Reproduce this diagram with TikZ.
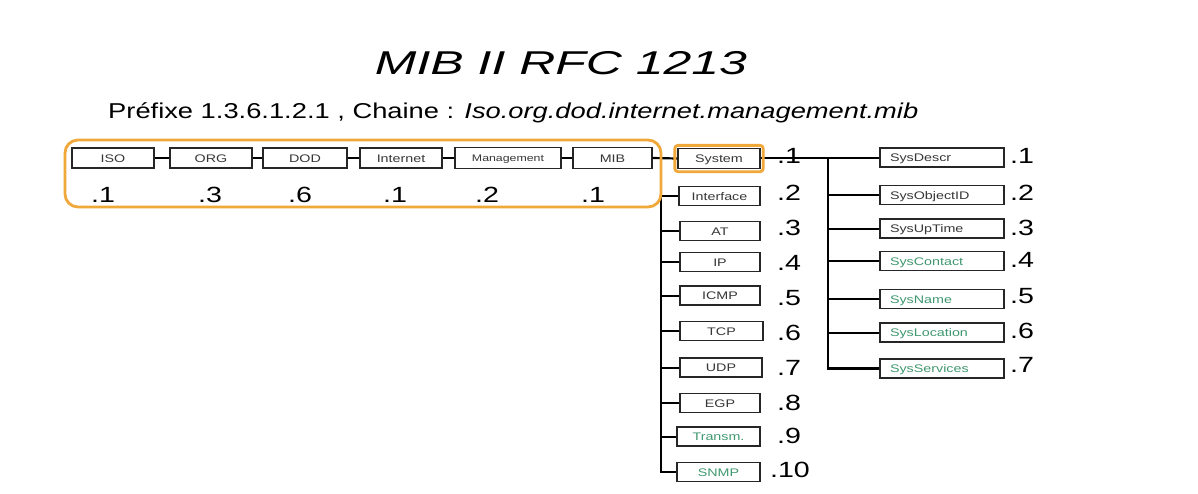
\documentclass[tikz,border=0pt]{standalone}
\usepackage{fontspec}
\setmainfont{Liberation Sans}
\usetikzlibrary{calc}
\definecolor{miborange}{RGB}{240,168,58}
\definecolor{mibgreen}{RGB}{64,152,112}
\definecolor{mibtext}{RGB}{55,55,55}
% labels are set slightly wide
\newcommand{\wtxt}[1]{\scalebox{1.3}[1]{#1}}
\begin{document}
\begin{tikzpicture}[x=1pt,y=-1pt,
  box/.style={draw=black!85, line width=1.3pt, fill=white, inner sep=0pt,
    minimum height=19pt, text=mibtext, text height=8pt, text depth=0pt,
    font=\fontsize{11pt}{12pt}\selectfont},
  leftbox/.style={box, inner xsep=10pt, text width=104pt, align=left},
  green/.style={text=mibgreen},
  num/.style={anchor=base, inner sep=0pt, font=\fontsize{22pt}{24pt}\selectfont, text=black},
  trunk/.style={line width=2.2pt, black},
  branch/.style={line width=2pt, black}]

\fill[white] (0,0) rectangle (1198,493);
\useasboundingbox (0,0) rectangle (1198,493);

% headings
\node[anchor=base] (title) at (561,74)
  {\resizebox{372pt}{\height}{\fontsize{33pt}{36pt}\selectfont\itshape MIB II RFC 1213}};
\node[anchor=base west, inner sep=0pt] (prefix) at (108,118)
  {\resizebox{810pt}{\height}{\fontsize{21.5pt}{24pt}\selectfont Préfixe 1.3.6.1.2.1 , Chaine : \textit{Iso.org.dod.internet.management.mib}}};

% path from the root down to mib
\node[box, minimum width=82pt, minimum height=20pt] (iso) at (113,158) {\wtxt{ISO}};
\node[box, minimum width=82pt, minimum height=20pt] (org) at (211,158) {\wtxt{ORG}};
\node[box, minimum width=84pt, minimum height=20pt] (dod) at (305,158) {\wtxt{DOD}};
\node[box, minimum width=82pt, minimum height=20pt] (internet) at (401,158) {\wtxt{Internet}};
\node[box, minimum width=106pt, minimum height=21pt, text height=7pt,
  font=\fontsize{9.5pt}{10pt}\selectfont] (mgmt) at (508,158) {\wtxt{Management}};
\node[box, minimum width=79pt, minimum height=21pt] (mib) at (612.5,158) {\wtxt{MIB}};

\node[num] (n-iso) at (103,202) {\wtxt{.1}};
\node[num] (n-org) at (210,202) {\wtxt{.3}};
\node[num] (n-dod) at (300,202) {\wtxt{.6}};
\node[num] (n-internet) at (395,202) {\wtxt{.1}};
\node[num] (n-mgmt) at (487,202) {\wtxt{.2}};
\node[num] (n-mib) at (593,202) {\wtxt{.1}};

% mib groups
\node[box, minimum width=82pt, minimum height=20pt] (system) at (719,158.5) {\wtxt{System}};
\node[box, minimum width=81pt] (interface) at (719.5,196) {\wtxt{Interface}};
\node[box, minimum width=80pt] (at) at (720,231) {\wtxt{AT}};
\node[box, minimum width=80pt] (ip) at (720,262) {\wtxt{IP}};
\node[box, minimum width=80pt] (icmp) at (720,295.5) {\wtxt{ICMP}};
\node[box, minimum width=83pt] (tcp) at (721.5,331) {\wtxt{TCP}};
\node[box, minimum width=82pt] (udp) at (721,367.5) {\wtxt{UDP}};
\node[box, minimum width=80pt] (egp) at (720,403) {\wtxt{EGP}};
\node[box, green, minimum width=83pt] (transm) at (718.5,436.5) {\wtxt{Transm.}};
\node[box, green, minimum width=83pt] (snmp) at (718.5,472) {\wtxt{SNMP}};

\node[num] (n-system) at (789,163) {\wtxt{.1}};
\node[num] (n-interface) at (789,200) {\wtxt{.2}};
\node[num] (n-at) at (789,235) {\wtxt{.3}};
\node[num] (n-ip) at (789,270) {\wtxt{.4}};
\node[num] (n-icmp) at (789,305) {\wtxt{.5}};
\node[num] (n-tcp) at (789,340) {\wtxt{.6}};
\node[num] (n-udp) at (789,375) {\wtxt{.7}};
\node[num] (n-egp) at (789,410) {\wtxt{.8}};
\node[num] (n-transm) at (789,443) {\wtxt{.9}};
\node[num] (n-snmp) at (790,477) {\wtxt{.10}};

% system group objects
\node[leftbox] (sysdescr) at (942,157.5) {\wtxt{SysDescr}};
\node[leftbox] (sysobjectid) at (942,195) {\wtxt{SysObjectID}};
\node[leftbox] (sysuptime) at (942,228.5) {\wtxt{SysUpTime}};
\node[leftbox, green] (syscontact) at (942,261) {\wtxt{SysContact}};
\node[leftbox, green] (sysname) at (942,299) {\wtxt{SysName}};
\node[leftbox, green] (syslocation) at (942,332.5) {\wtxt{SysLocation}};
\node[leftbox, green] (sysservices) at (942,368.5) {\wtxt{SysServices}};

\node[num] (n-sysdescr) at (1022,163) {\wtxt{.1}};
\node[num] (n-sysobjectid) at (1022,200) {\wtxt{.2}};
\node[num] (n-sysuptime) at (1022,235) {\wtxt{.3}};
\node[num] (n-syscontact) at (1022,267) {\wtxt{.4}};
\node[num] (n-sysname) at (1022,303) {\wtxt{.5}};
\node[num] (n-syslocation) at (1022,338) {\wtxt{.6}};
\node[num] (n-sysservices) at (1022,372) {\wtxt{.7}};

% connectors along the prefix
\draw[trunk] (iso.east) -- (org.west);
\draw[trunk] (org.east) -- (dod.west);
\draw[trunk] (dod.east) -- (internet.west);
\draw[trunk] (internet.east) -- (mgmt.west);
\draw[trunk] (mgmt.east) -- (mib.west);
\draw[trunk] (mib.east) -- (system.west);

% trunk of the mib groups
\coordinate (mibjoint) at (661,158);
\draw[trunk] (mibjoint) |- (snmp.west);
\foreach \g in {interface,at,ip,icmp,tcp,udp,egp,transm}
  \draw[branch] (mibjoint |- \g.west) -- (\g.west);

% trunk of the system objects
\draw[branch] (system.east |- sysdescr.west) -- (sysdescr.west);
\coordinate (sysjoint) at (828,157.5);
\draw[trunk] (sysjoint) |- (sysservices.west);
\foreach \o in {sysobjectid,sysuptime,syscontact,sysname,syslocation}
  \draw[branch] (sysjoint |- \o.west) -- (\o.west);

% highlights
\draw[miborange, line width=2.8pt, rounded corners=3pt]
  ($(system.south west)+(-2.5,2.5)$) rectangle ($(system.north east)+(2.5,-2.5)$);
\draw[miborange, line width=2.8pt, rounded corners=13pt] (65,140) rectangle (661,207);
\end{tikzpicture}
\end{document}
